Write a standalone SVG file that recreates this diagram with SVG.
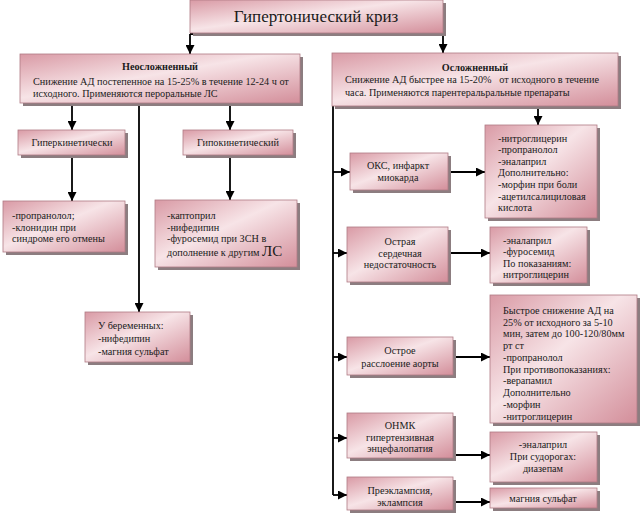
<svg xmlns="http://www.w3.org/2000/svg" width="641" height="516" viewBox="0 0 641 516">
<defs>
<linearGradient id="g" x1="0" y1="0" x2="1" y2="1">
<stop offset="0" stop-color="#d99aa5"/>
<stop offset="0.45" stop-color="#f7e4e7"/>
<stop offset="1" stop-color="#d38e9a"/>
</linearGradient>
<marker id="ah" viewBox="0 0 10 10" refX="10" refY="5" markerWidth="5" markerHeight="5" orient="auto" markerUnits="strokeWidth">
<path d="M0,0 L10,5 L0,10 z" fill="#000"/>
</marker>
</defs>
<style>
.box{fill:url(#g);stroke:#b07a84;stroke-width:0.8}
.sh{fill:#8c7d80}
.t{font-family:"Liberation Serif","Times New Roman",serif;font-size:10.2px;fill:#1a1a1a}
.c{text-anchor:middle}
.b{font-weight:bold}
.ln{stroke:#000;stroke-width:1.8;fill:none}
.ar{stroke:#000;stroke-width:1.8;fill:none;marker-end:url(#ah)}
</style>
<rect width="641" height="516" fill="#fff"/>

<g id="connectors">
<path class="ln" d="M190,34 H443"/>
<path class="ar" d="M190,34 V54"/>
<path class="ar" d="M443,34 V53"/>
<path class="ar" d="M72,103 V130"/>
<path class="ar" d="M230,103 V130"/>
<path class="ar" d="M139,103 V312"/>
<path class="ar" d="M72,155 V201"/>
<path class="ar" d="M230,155 V200"/>
<path class="ln" d="M333,106 V495"/>
<path class="ar" d="M333,172 H350"/>
<path class="ar" d="M333,253 H347"/>
<path class="ar" d="M333,357 H347"/>
<path class="ar" d="M333,438 H347"/>
<path class="ar" d="M333,495 H347"/>
<path class="ar" d="M538,106 V125"/>
<path class="ar" d="M448,172 H485"/>
<path class="ar" d="M448,253 H490"/>
<path class="ar" d="M453,357 H490"/>
<path class="ar" d="M453,455 H490"/>
<path class="ar" d="M453,502 H490"/>
</g>

<g id="title">
<rect class="sh" x="193" y="3" width="253" height="33"/>
<rect class="box" x="190" y="0" width="253" height="33"/>
<text class="t c" x="316" y="22" style="font-size:17px">Гипертонический криз</text>
</g>

<g id="uncomplicated">
<rect class="sh" x="23" y="57" width="280" height="49"/>
<rect class="box" x="20" y="54" width="280" height="49"/>
<text class="t c b" x="160" y="70">Неосложненный</text>
<text class="t" x="33" y="85">Снижение АД постепенное на 15-25% в течение 12-24 ч от</text>
<text class="t" x="33" y="97">исходного. Применяются пероральные ЛС</text>
</g>

<g id="complicated">
<rect class="sh" x="335" y="56" width="286" height="53"/>
<rect class="box" x="332" y="53" width="286" height="53"/>
<text class="t c b" x="475" y="71">Осложненный</text>
<text class="t" x="345" y="83" xml:space="preserve">Снижение АД быстрее на 15-20%   от исходного в течение</text>
<text class="t" x="345" y="96">часа. Применяются парентеральральные препараты</text>
</g>

<g id="hyperkinetic">
<rect class="sh" x="21" y="133" width="107" height="25"/>
<rect class="box" x="18" y="130" width="107" height="25"/>
<text class="t c" x="72" y="146">Гиперкинетически</text>
</g>

<g id="hypokinetic">
<rect class="sh" x="186" y="133" width="110" height="25"/>
<rect class="box" x="183" y="130" width="110" height="25"/>
<text class="t c" x="238" y="146">Гипокинетический</text>
</g>

<g id="propranolol">
<rect class="sh" x="6" y="204" width="122" height="51"/>
<rect class="box" x="3" y="201" width="122" height="51"/>
<text class="t" x="12" y="219">-пропранолол;</text>
<text class="t" x="12" y="231">-клонидин при</text>
<text class="t" x="12" y="242">синдроме его отмены</text>
</g>

<g id="captopril">
<rect class="sh" x="158" y="203" width="142" height="67"/>
<rect class="box" x="155" y="200" width="142" height="67"/>
<text class="t" x="167" y="219">-каптоприл</text>
<text class="t" x="167" y="231">-нифедипин</text>
<text class="t" x="167" y="242">-фуросемид при ЗСН в</text>
<text class="t" x="167" y="256">дополнение к другим <tspan style="font-size:15px">ЛС</tspan></text>
</g>

<g id="pregnant">
<rect class="sh" x="88" y="315" width="105" height="50"/>
<rect class="box" x="85" y="312" width="105" height="50"/>
<text class="t" x="98" y="329">У беременных:</text>
<text class="t" x="98" y="342">-нифедипин</text>
<text class="t" x="98" y="355">-магния сульфат</text>
</g>

<g id="oks">
<rect class="sh" x="353" y="156" width="98" height="37"/>
<rect class="box" x="350" y="153" width="98" height="37"/>
<text class="t c" x="398" y="169">ОКС, инфаркт</text>
<text class="t c" x="398" y="181">миокарда</text>
</g>

<g id="oks-drugs">
<rect class="sh" x="488" y="128" width="112" height="93"/>
<rect class="box" x="485" y="125" width="112" height="93"/>
<text class="t" x="498" y="142">-нитроглицерин</text>
<text class="t" x="498" y="153">-пропранолол</text>
<text class="t" x="498" y="165">-эналаприл</text>
<text class="t" x="498" y="176">Дополнительно:</text>
<text class="t" x="498" y="188">-морфин при боли</text>
<text class="t" x="498" y="200">-ацетилсалициловая</text>
<text class="t" x="498" y="211">кислота</text>
</g>

<g id="heart-failure">
<rect class="sh" x="350" y="230" width="101" height="55"/>
<rect class="box" x="347" y="227" width="101" height="55"/>
<text class="t c" x="400" y="245">Острая</text>
<text class="t c" x="400" y="257">сердечная</text>
<text class="t c" x="400" y="268">недостаточность</text>
</g>

<g id="hf-drugs">
<rect class="sh" x="493" y="230" width="97" height="56"/>
<rect class="box" x="490" y="227" width="97" height="56"/>
<text class="t" x="503" y="244">-эналаприл</text>
<text class="t" x="503" y="255">-фуросемид</text>
<text class="t" x="503" y="267">По показаниям:</text>
<text class="t" x="503" y="278">нитроглицерин</text>
</g>

<g id="aortic">
<rect class="sh" x="350" y="340" width="106" height="38"/>
<rect class="box" x="347" y="337" width="106" height="38"/>
<text class="t c" x="400" y="354">Острое</text>
<text class="t c" x="400" y="367">расслоение аорты</text>
</g>

<g id="aortic-drugs">
<rect class="sh" x="493" y="298" width="147" height="128"/>
<rect class="box" x="490" y="295" width="147" height="128"/>
<text class="t" x="503" y="314">Быстрое снижение АД на</text>
<text class="t" x="503" y="326">25% от исходного за 5-10</text>
<text class="t" x="503" y="337">мин, затем до 100-120/80мм</text>
<text class="t" x="503" y="349">рт ст</text>
<text class="t" x="503" y="361">-пропранолол</text>
<text class="t" x="503" y="373">При противопоказаниях:</text>
<text class="t" x="503" y="384">-верапамил</text>
<text class="t" x="503" y="396">Дополнительно</text>
<text class="t" x="503" y="408">-морфин</text>
<text class="t" x="503" y="420">-нитроглицерин</text>
</g>

<g id="onmk">
<rect class="sh" x="350" y="416" width="106" height="45"/>
<rect class="box" x="347" y="413" width="106" height="45"/>
<text class="t c" x="400" y="429">ОНМК</text>
<text class="t c" x="400" y="441">гипертензивная</text>
<text class="t c" x="400" y="452">энцефалопатия</text>
</g>

<g id="onmk-drugs">
<rect class="sh" x="493" y="435" width="107" height="50"/>
<rect class="box" x="490" y="432" width="107" height="50"/>
<text class="t c" x="543" y="448">-эналаприл</text>
<text class="t c" x="543" y="460">При судорогах:</text>
<text class="t c" x="543" y="472">диазепам</text>
</g>

<g id="preeclampsia">
<rect class="sh" x="350" y="480" width="106" height="33"/>
<rect class="box" x="347" y="477" width="106" height="33"/>
<text class="t c" x="400" y="494">Преэклампсия,</text>
<text class="t c" x="400" y="506">эклампсия</text>
</g>

<g id="mg">
<rect class="sh" x="493" y="491" width="107" height="20"/>
<rect class="box" x="490" y="488" width="107" height="20"/>
<text class="t c" x="543" y="502">магния сульфат</text>
</g>
</svg>
